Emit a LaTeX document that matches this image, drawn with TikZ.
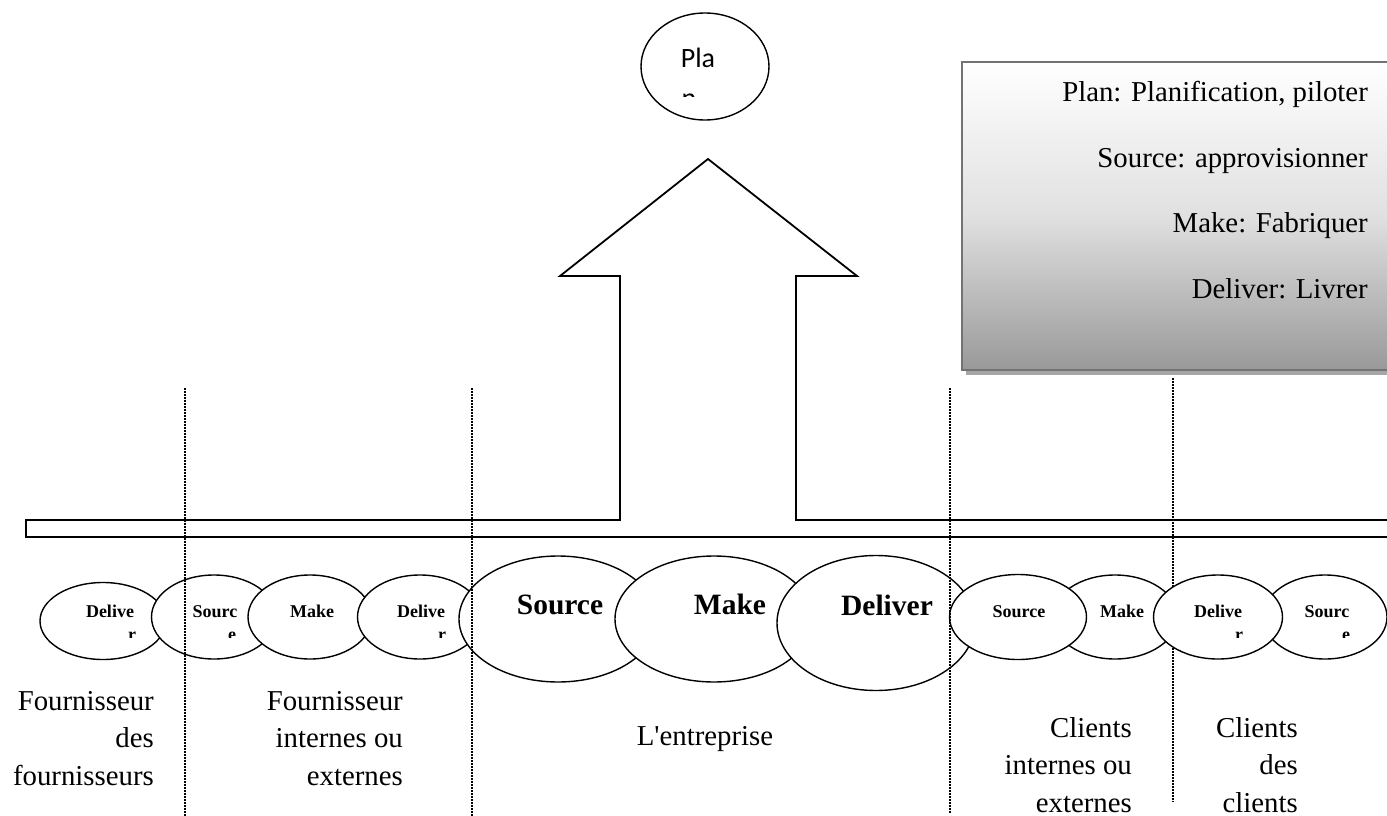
\documentclass[tikz,border=0pt]{standalone}
\usepackage{fontspec}
\setmainfont{Liberation Serif}
\newfontfamily\serifplain{Liberation Serif}
\newfontfamily\calibfont{Carlito}
\usetikzlibrary{shapes.geometric}
\begin{document}
\begin{tikzpicture}[x=1pt,y=-1pt,
  el/.style={draw, ellipse, fill=white, line width=1.4pt, inner sep=0pt},
  txt/.style={inner sep=0pt, text=black},
  lbl/.style={txt, font=\fontsize{28.8}{35}\selectfont, anchor=base east},
  smalltxt/.style={txt, font=\bfseries\fontsize{18}{22}\selectfont, anchor=base},
  bigtxt/.style={txt, font=\bfseries\fontsize{29.5}{36}\selectfont, anchor=base},
  dotline/.style={line width=1.6pt, dash pattern=on 1.5pt off 1.5pt},
]
\useasboundingbox (0,0) rectangle (1387,816);
\clip (0,0) rectangle (1387,816);

% Plan circle
\node[draw, ellipse, line width=1.4pt, minimum width=128pt, minimum height=107pt, inner sep=0pt] (plan) at (705,66.5) {};
\node[txt, anchor=base, font=\calibfont\fontsize{28}{34}\selectfont] (pla) at (698,67) {Pla};
\begin{scope}
  \clip (675,93) rectangle (705,96);
  \node[txt, anchor=base, font=\calibfont\fontsize{28}{34}\selectfont] (plan2) at (689,107) {n};
\end{scope}

% bar + up arrow
\draw[line width=1.8pt, line join=miter] (1400,537) -- (26,537) -- (26,520) -- (620,520) -- (620,276) -- (560,276) -- (708,159) -- (857,276) -- (796,276) -- (796,520) -- (1400,520);

% legend box
\fill[black!35] (966,66) rectangle (1400,375);
\shade[top color=white, bottom color=black!40, middle color=black!12] (962,62) rectangle (1400,370);
\draw[black!55, line width=2pt] (1400,62) -- (962,62) -- (962,370) -- (1400,370);
\node[lbl] (l1) at (1368,102) {Plan: Planification, piloter};
\node[lbl] (l2) at (1368,167) {Source: approvisionner};
\node[lbl] (l3) at (1368,232) {Make: Fabriquer};
\node[lbl] (l4) at (1368,298) {Deliver: Livrer};

% dotted line hidden behind ellipse
\draw[dotline] (1173,378) -- (1173,802);

% ellipses
\node[el, minimum width=126pt, minimum height=77pt] (e1) at (103,621) {};
\node[el, minimum width=125pt, minimum height=84pt] (e2) at (214,617) {};
\node[el, minimum width=124pt, minimum height=84pt] (e3) at (310,617) {};
\node[el, minimum width=125pt, minimum height=84pt] (e4) at (420,617) {};
\node[el, minimum width=198pt, minimum height=126pt] (bs) at (558,619) {};
\node[el, minimum width=198pt, minimum height=126pt] (bm) at (714,619) {};
\node[el, minimum width=198pt, minimum height=135pt] (bd) at (876,623) {};
\node[el, minimum width=125pt, minimum height=84pt] (e6) at (1115,617) {};
\node[el, minimum width=137pt, minimum height=85pt] (e5) at (1018,617) {};
\node[el, minimum width=124pt, minimum height=84pt] (e8) at (1325,617) {};
\node[el, minimum width=129pt, minimum height=84pt] (e7) at (1218,617) {};

% dotted lines on top
\draw[dotline] (185,388) -- (185,816);
\draw[dotline] (472,388) -- (472,816);
\draw[dotline] (950,388) -- (950,813);

% ellipse texts
\node[smalltxt] (t1) at (110,617) {Delive};
\node[smalltxt] (t2) at (215,617) {Sourc};
\node[smalltxt] (t3) at (312,617) {Make};
\node[smalltxt] (t4) at (421,617) {Delive};
\node[bigtxt] (tbs) at (560,614) {Source};
\node[bigtxt] (tbm) at (730,614) {Make};
\node[bigtxt] (tbd) at (887,615) {Deliver};
\node[smalltxt] (t5) at (1019,617) {Source};
\node[smalltxt] (t6) at (1122,617) {Make};
\node[smalltxt] (t7) at (1218,617) {Delive};
\node[smalltxt] (t8) at (1327,617) {Sourc};
\begin{scope}
  \clip (0,626) rectangle (1387,637);
  \node[smalltxt] (f1) at (132,640) {r};
  \node[smalltxt] (f2) at (232,640) {e};
  \node[smalltxt] (f4) at (442,640) {r};
  \node[smalltxt] (f7) at (1239,640) {r};
  \node[smalltxt] (f8) at (1346,640) {e};
\end{scope}

% bottom labels
\node[lbl] (a1) at (154,710) {Fournisseur};
\node[lbl] (a2) at (154,747.5) {des};
\node[lbl] (a3) at (154,785) {fournisseurs};
\node[lbl] (b1) at (403,710) {Fournisseur};
\node[lbl] (b2) at (403,747.5) {internes ou};
\node[lbl] (b3) at (403,785) {externes};
\node[txt, anchor=base, font=\serifplain\fontsize{28.8}{35}\selectfont] (ent) at (705,745) {L'entreprise};
\node[lbl] (c1) at (1132,737) {Clients};
\node[lbl] (c2) at (1132,774.5) {internes ou};
\node[lbl] (c3) at (1132,812) {externes};
\node[lbl] (d1) at (1298,737) {Clients};
\node[lbl] (d2) at (1298,774.5) {des};
\node[lbl] (d3) at (1298,812) {clients};
\end{tikzpicture}
\end{document}
